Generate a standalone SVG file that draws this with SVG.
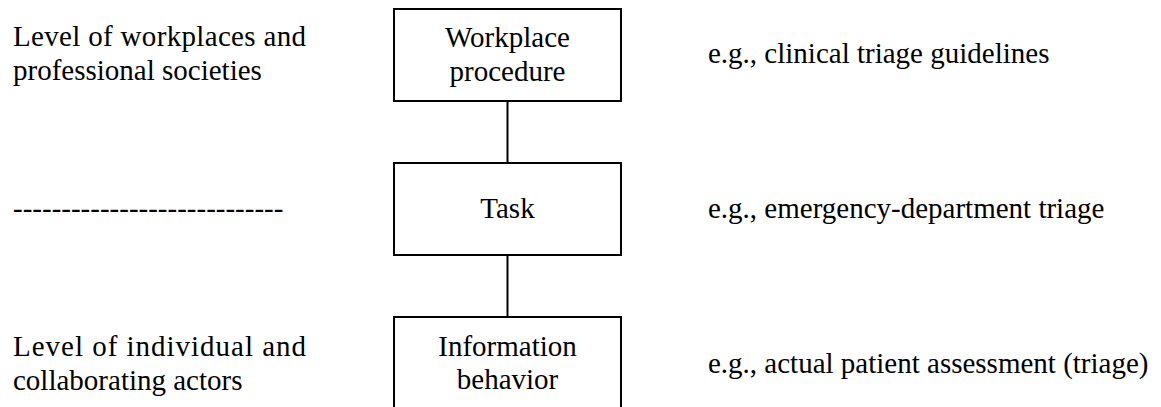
<svg xmlns="http://www.w3.org/2000/svg" width="1161" height="407" viewBox="0 0 1161 407">
<style>
text{font-family:'Times New Roman','Liberation Serif',Tinos,serif;font-size:29px;fill:#000}
.c{text-anchor:middle}
.box{fill:#fff;stroke:#000;stroke-width:2}
.conn{stroke:#000;stroke-width:2;fill:none}
</style>
<rect width="1161" height="407" fill="#fff"/>
<g id="connectors">
<line class="conn" x1="507.5" y1="101" x2="507.5" y2="163"/>
<line class="conn" x1="507.5" y1="255" x2="507.5" y2="317"/>
</g>
<g id="node-workplace">
<rect class="box" x="394" y="9" width="227" height="92"/>
<text class="c" x="507.5" y="47">Workplace</text>
<text class="c" x="507.5" y="81">procedure</text>
</g>
<g id="node-task">
<rect class="box" x="394" y="163" width="227" height="92"/>
<text class="c" x="507.5" y="218">Task</text>
</g>
<g id="node-info">
<rect class="box" x="394" y="317" width="227" height="110"/>
<text class="c" x="507.5" y="356">Information</text>
<text class="c" x="507.5" y="389">behavior</text>
</g>
<g id="left-labels">
<text x="13" y="46" textLength="293" lengthAdjust="spacing">Level of workplaces and</text>
<text x="13" y="80">professional societies</text>
<text x="13" y="218">----------------------------</text>
<text x="13" y="356" textLength="293" lengthAdjust="spacing">Level of individual and</text>
<text x="13" y="390">collaborating actors</text>
</g>
<g id="right-labels">
<text x="708" y="63">e.g., clinical triage guidelines</text>
<text x="708" y="218">e.g., emergency-department triage</text>
<text x="708" y="373">e.g., actual patient assessment (triage)</text>
</g>
</svg>
